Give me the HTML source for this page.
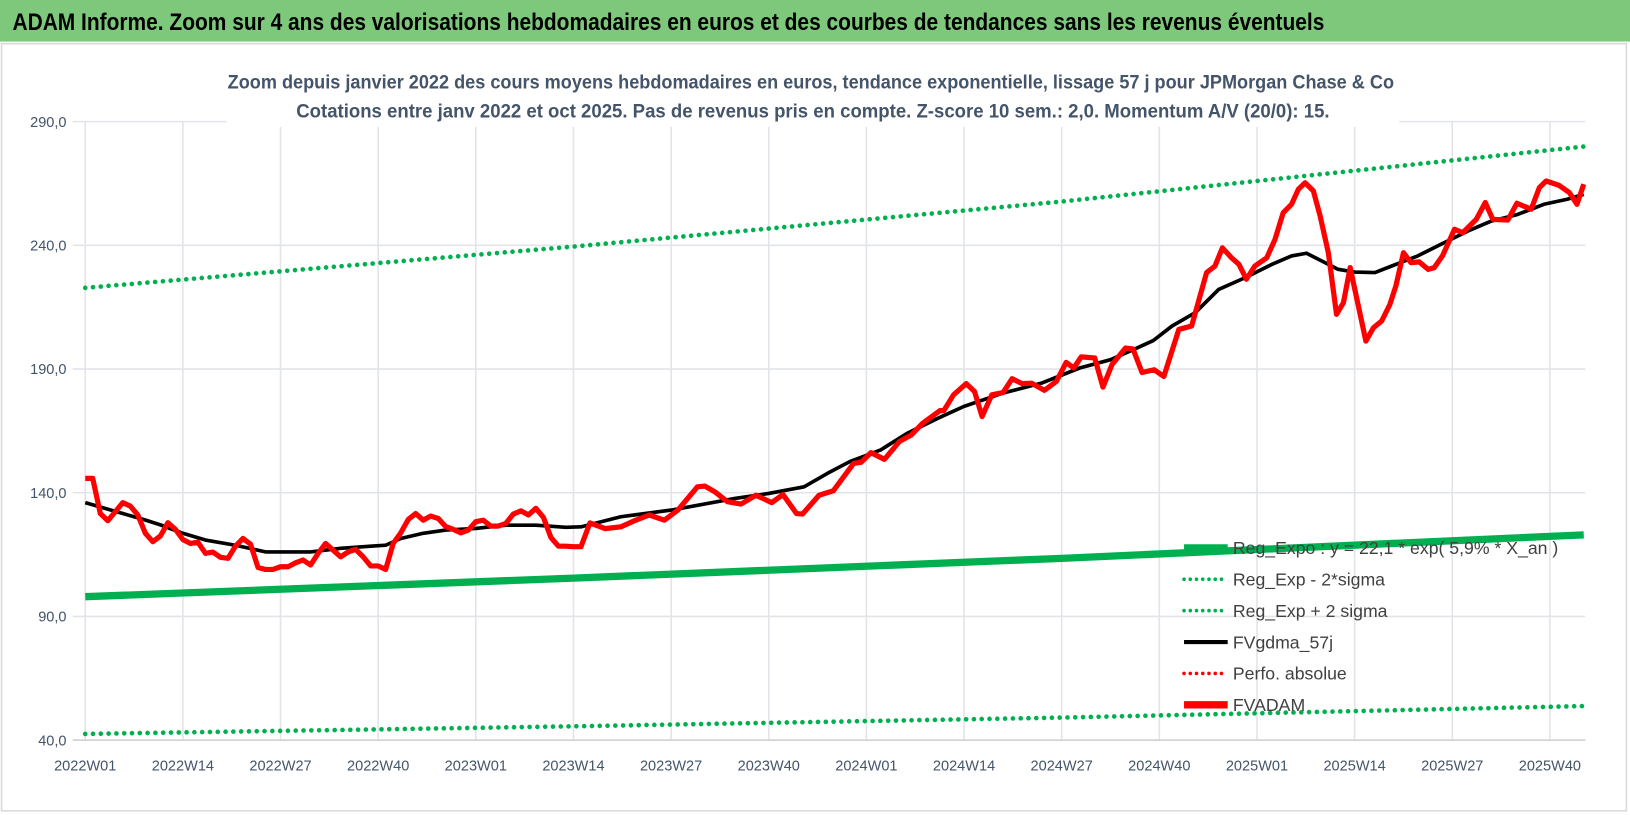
<!DOCTYPE html>
<html><head><meta charset="utf-8"><style>
html,body{margin:0;padding:0;background:#fff;}
svg{display:block;}
text{font-family:"Liberation Sans Narrow","Liberation Sans",sans-serif;}
</style></head><body>
<svg id="chart" width="1630" height="815" viewBox="0 0 1568 784" preserveAspectRatio="none" xmlns="http://www.w3.org/2000/svg">
<rect x="0" y="0" width="1568" height="784" fill="#fff"/>
<rect x="0" y="0" width="1568" height="40" fill="#7ec87c"/>
<text x="12" y="29" font-size="23" font-weight="bold" fill="#000" textLength="1262" lengthAdjust="spacingAndGlyphs">ADAM Informe. Zoom sur 4 ans des valorisations hebdomadaires en euros et des courbes de tendances sans les revenus éventuels</text>
<rect x="1.5" y="42" width="1563" height="738" fill="none" stroke="#d9d9d9" stroke-width="1.5"/>
<g id="grid"></g>
<g id="series"></g>
<rect x="218" y="60" width="1128" height="62" fill="#fff"/>
<text x="780" y="85" text-anchor="middle" font-size="19" font-weight="bold" fill="#44546a" textLength="1122" lengthAdjust="spacingAndGlyphs">Zoom depuis janvier 2022 des cours moyens hebdomadaires en euros, tendance exponentielle, lissage 57 j pour JPMorgan Chase &amp; Co</text>
<text x="782" y="113" text-anchor="middle" font-size="19" font-weight="bold" fill="#44546a" textLength="994" lengthAdjust="spacingAndGlyphs">Cotations entre janv 2022 et oct 2025. Pas de revenus pris en compte. Z-score 10 sem.: 2,0. Momentum A/V (20/0): 15.</text>
<g id="legend"></g>
</svg>
<script>
const xTickLabels = ["2022W01","2022W14","2022W27","2022W40","2023W01","2023W14","2023W27","2023W40","2024W01","2024W14","2024W27","2024W40","2025W01","2025W14","2025W27","2025W40"];
const yTicks = [40,90,140,190,240,290];
const yTickLabels = ["40,0","90,0","140,0","190,0","240,0","290,0"];

const redIdx = [0,1,2,3,4,5,6,7,8,9,10,11,12,13,14,15,16,17,18,19,20,21,22,23,24,25,26,27,28,29,30,31,32,33,34,35,36,37,38,39,40,41,42,43,44,45,46,47,48,49,50,51,52,53,54,55,56,57,58,59,60,61,62,63,64,65,66,67.2,69.2,71.3,73.3,75.1,77.1,78.9,81.5,82.5,83.8,85.5,87.3,89.3,91.4,92.9,94.7,95.5,97.7,99.6,102.3,103.3,104.6,106.4,108.4,110,111.5,113.8,114.3,115.6,117.3,118.4,119.4,120.7,122.2,123.4,124.7,126,127.7,129.3,130.6,131.6,132.6,134.4,135.5,136.7,138.5,139.5,140.7,142.3,143.6,145.6,147.3,149.3,150.4,151.4,152.6,153.6,154.6,155.7,157.3,158.4,159.5,160.6,161.5,162.4,163.5,164.4,165.5,166.6,167.5,168.4,169.5,170.5,171.5,172.6,173.7,174.5,175.5,176.5,177.6,178.8,179.6,180.7,182.3,183.4,185.2,186.4,187.4,189.4,190.6,192.5,193.6,194.5,196.2,197.6,198.6,199.5];
const redVal = [145.8,145.8,131.6,128.7,132.3,136,134.6,131,123.6,120.2,122.5,127.9,125.2,121.1,119.5,120,115.5,116,113.9,113.5,118.4,121.5,119.2,109.8,109,109,110.1,110.1,111.7,112.8,110.8,115.5,119.5,116.8,114.1,116.1,117.1,114.1,110.4,110.4,109,119.5,123.8,129.2,131.6,128.9,130.6,129.6,126.3,125.2,123.8,124.9,128.3,128.9,126.5,126.5,127.6,131.4,132.7,131,133.7,130.1,121.9,118.4,118.4,118.2,118.2,127.8,125.5,126.2,128.9,131,128.9,133,142.4,142.7,140.4,136.4,135.4,139,136,139.3,131.6,131.4,139,140.8,151.9,152.3,156.2,153.5,160.7,163.4,168.1,173.2,173.2,179.6,184.1,180.9,170.8,179.6,180.5,186.1,184.1,184.3,181.4,185,192.7,190.4,194.9,194.5,182.7,191.8,198.5,198.1,188.6,189.7,187,206,207.4,229,231.6,239,235,232.3,226.3,231.6,235,242.4,253.2,256.6,262.6,265.3,262,251.9,237,212.1,216.8,231,215.5,201.3,206.7,209.4,216.1,223.6,237,233,233.3,230.3,231,235.7,246.5,245.1,250.5,257.3,250.5,250.2,257,254.6,263.3,266,264.3,261.3,256.6,264.7];

const blackIdx = [0,5,8,10,13,16,20,24,30,34,38,40,42,45,48,52,56,60,64,66,71.3,78,86.5,91,95.7,98.8,101.8,105.9,109.4,113.5,117,122.2,127.3,132.4,136.5,140,142.2,144.7,147.8,150.9,154.4,158,160.6,162.6,164.6,166.8,169,171.7,173.9,177.4,180.5,184.1,187.2,190.7,194.2,197.3,199.5];
const blackVal = [136,131.6,129,127,123.6,120.9,118.8,116.1,116.1,117.5,118.4,118.8,121.5,123.6,124.9,125.6,126.9,126.9,126,126.2,130.3,133,137.7,139.7,142.4,147.8,152.6,157.3,164,170.1,174.9,180.3,184.3,190.4,193.8,198.5,201.5,207.4,212.8,222.2,226.9,232.3,235.7,236.8,233.7,230.3,229.2,229,231.6,235.7,240.4,245.8,249.8,252.5,256.6,258.6,260.6];

const trendIdx = [0,65,130,199.5];
const regVal = [98,105.5,113.5,123];
const regMinusVal = [42.5,45.6,49.1,53.8];
const regPlusVal = [222.8,239.5,257.7,279.9];

const X0 = 82, WEEK = 93.93/13, YTOP = 117, YBOT = 712, VMIN = 40, VMAX = 290;
function xs(i){ return X0 + i*WEEK; }
function ys(v){ return YBOT - (v - VMIN)/(VMAX - VMIN)*(YBOT - YTOP); }
const NS = "http://www.w3.org/2000/svg";
function mk(tag, attrs, parent){ const e = document.createElementNS(NS, tag); for (const k in attrs) e.setAttribute(k, attrs[k]); parent.appendChild(e); return e; }
const grid = document.getElementById('grid');
const series = document.getElementById('series');
const legend = document.getElementById('legend');

yTicks.forEach((v, k) => {
  const gl = mk('line', {x1: 70, x2: 1525, y1: ys(v), y2: ys(v), stroke: '#e1e4e8', 'stroke-width': 1.5}, grid);
  
  
  const t = mk('text', {x: 64, y: ys(v) + 5, 'text-anchor': 'end', 'font-size': 14, fill: '#44546a'}, grid);
  t.textContent = yTickLabels[k];
  
  
});
xTickLabels.forEach((lab, k) => {
  const x = xs(k*13);
  const gl = mk('line', {x1: x, x2: x, y1: YTOP, y2: YBOT, stroke: '#e1e4e8', 'stroke-width': 1.5}, grid);
  
  
  const t = mk('text', {x: x, y: 741, 'text-anchor': 'middle', 'font-size': 14, fill: '#44546a'}, grid);
  t.textContent = lab;
  
  
});
const ax = mk('line', {x1: 70, x2: 1525, y1: YBOT, y2: YBOT, stroke: '#d0d0d0', 'stroke-width': 1.5}, grid);



function pts(idx, vals){ return idx.map((i, k) => xs(i).toFixed(1) + ',' + ys(vals[k]).toFixed(1)).join(' '); }
const dotted = {'stroke-dasharray': '0 7.5', 'stroke-linecap': 'round', 'stroke-width': 4.5};

const s1 = mk('polyline', {points: pts(trendIdx, regVal), fill: 'none', stroke: '#00b050', 'stroke-width': 7}, series);


const s2 = mk('polyline', Object.assign({points: pts(trendIdx, regMinusVal), fill: 'none', stroke: '#00b050'}, dotted), series);


const s3 = mk('polyline', Object.assign({points: pts(trendIdx, regPlusVal), fill: 'none', stroke: '#00b050'}, dotted), series);


const s4 = mk('polyline', {points: pts(blackIdx, blackVal), fill: 'none', stroke: '#000', 'stroke-width': 3.5, 'stroke-linejoin': 'round'}, series);


const s5 = mk('polyline', {points: pts(redIdx, redVal), fill: 'none', stroke: '#ff0000', 'stroke-width': 5, 'stroke-linejoin': 'round'}, series);



const legLabels = ["Reg_Expo : y = 22,1 * exp( 5,9% * X_an )","Reg_Exp - 2*sigma","Reg_Exp + 2 sigma","FVgdma_57j","Perfo. absolue","FVADAM"];
const legColors = ['#00b050','#00b050','#00b050','#000','#ff0000','#ff0000'];
const legKinds = ['thick','dot','dot','solid','dot','thick'];
legLabels.forEach((lab, k) => {
  const y = 527 + k*30.2;
  const g = mk('g', {}, legend);
  
  
  const a = {x1: 1139, x2: 1181, y1: y, y2: y, stroke: legColors[k]};
  if (legKinds[k] === 'thick') Object.assign(a, {'stroke-width': 7});
  else if (legKinds[k] === 'dot') Object.assign(a, {'stroke-width': 3.5, 'stroke-dasharray': '0 6', 'stroke-linecap': 'round'});
  else Object.assign(a, {'stroke-width': 4});
  mk('line', a, g);
  const t = mk('text', {x: 1186, y: y + 6, 'font-size': 17, fill: '#404040'}, g);
  t.textContent = lab;
});
</script>
</body></html>
